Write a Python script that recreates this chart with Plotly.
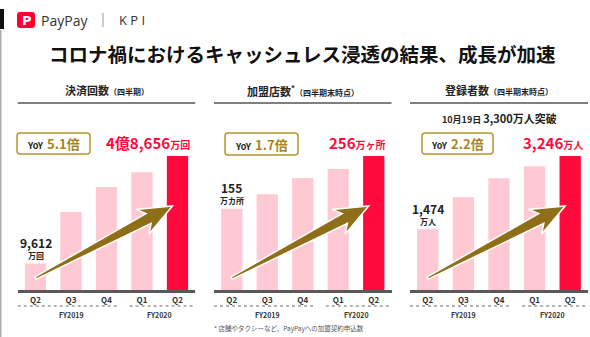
import plotly.graph_objects as go

W, H = 590, 337
FONT = "Noto Sans CJK JP"

# ---------------- data ----------------
quarters = ["Q2", "Q3", "Q4", "Q1", "Q2"]
fiscal_years = ["FY2019", "FY2020"]
payments = [9612, 28300, 37400, 42800, 48656]          # 万回
merchants = [155, 183, 214, 231, 256]                   # 万ヶ所
users = [1474, 2245, 2709, 3000, 3246]                  # 万人

panel_titles = ["決済回数", "加盟店数<sup>*</sup>", "登録者数"]
panel_subtitles = ["（四半期）", "（四半期末時点）", "（四半期末時点）"]
yoy_values = ["5.1倍", "1.7倍", "2.2倍"]
first_labels = [("9,612", "万回"), ("155", "万カ所"), ("1,474", "万人")]
last_labels = [("4億8,656", "万回"), ("256", "万ヶ所"), ("3,246", "万人")]
series = [payments, merchants, users]

PINK = "#FFC9D4"
RED = "#FF0A3C"
GOLD = "#B8952F"
GOLD_TXT = "#A8841F"
ARROW = "#8F6E18"


def px(x):
    return x / W


def py(y):
    return 1 - y / H


def ann(**kw):
    d = dict(showarrow=False, xanchor="center", yanchor="middle")
    d.update(kw)
    return d


# axis geometry (pixels)
domains_px = [(17.75, 195.25), (214, 391.5), (410, 588)]
base_px, top_px = 290, 150
yoy_boxes = [(17, 133, 90, 154), (225, 133, 298, 155), (422, 133, 493, 154)]

fig = go.Figure()
layout = dict(
    width=W, height=H, margin=dict(l=0, r=0, t=0, b=0),
    paper_bgcolor="white", plot_bgcolor="white", showlegend=False,
    font=dict(family=FONT, color="#222"),
)
shapes, annots = [], []

for i, vals in enumerate(series):
    xa = "x" if i == 0 else f"x{i+1}"
    ya = "y" if i == 0 else f"y{i+1}"
    colors = [PINK] * (len(vals) - 1) + [RED]
    fig.add_trace(go.Bar(x=list(range(len(vals))), y=vals, marker_color=colors,
                         marker_line_width=0, width=0.6, xaxis=xa, yaxis=ya,
                         hoverinfo="skip"))
    d0, d1 = domains_px[i]
    rng = max(vals) * (base_px - top_px) / 134
    layout["xaxis" if i == 0 else f"xaxis{i+1}"] = dict(
        domain=[px(d0), px(d1)], range=[-0.5, 4.5], anchor=ya,
        tickvals=list(range(5)), ticktext=[f"<b>{q}</b>" for q in quarters],
        tickfont=dict(size=8, color="#333", family=FONT),
        showline=True, linecolor="#595959", linewidth=3, ticks="",
        showgrid=False, zeroline=False, fixedrange=True)
    layout["yaxis" if i == 0 else f"yaxis{i+1}"] = dict(
        domain=[py(base_px), py(top_px)], range=[0, rng], anchor=xa,
        visible=False, fixedrange=True)

    cx = (d0 + d1) / 2
    # panel title + underline
    annots.append(ann(x=px(cx), y=py(90), xref="paper", yref="paper",
                      text=f"<b>{panel_titles[i]}</b><span style='font-size:8px'><b>{panel_subtitles[i]}</b></span>",
                      font=dict(size=11, color="#222")))
    shapes.append(dict(type="line", xref="paper", yref="paper", x0=px(d0), x1=px(d1),
                       y0=py(103), y1=py(103), line=dict(color="#555", width=1.5)))

    # fiscal year dotted lines & labels
    shapes.append(dict(type="line", xref=xa, yref="paper", x0=-0.5, x1=2.35,
                       y0=py(306), y1=py(306), line=dict(color="#666", width=1, dash="dot")))
    shapes.append(dict(type="line", xref=xa, yref="paper", x0=2.65, x1=4.5,
                       y0=py(306), y1=py(306), line=dict(color="#666", width=1, dash="dot")))
    annots.append(ann(x=1, y=py(315), xref=xa, yref="paper", text=f"<b>{fiscal_years[0]}</b>",
                      font=dict(size=7, color="#333")))
    annots.append(ann(x=3.5, y=py(315), xref=xa, yref="paper", text=f"<b>{fiscal_years[1]}</b>",
                      font=dict(size=7, color="#333")))

    # YoY rounded box
    bx0, by0, bx1, by1 = yoy_boxes[i]
    r = 3
    path = (f"M {px(bx0+r)},{py(by0)} L {px(bx1-r)},{py(by0)} Q {px(bx1)},{py(by0)} {px(bx1)},{py(by0+r)} "
            f"L {px(bx1)},{py(by1-r)} Q {px(bx1)},{py(by1)} {px(bx1-r)},{py(by1)} "
            f"L {px(bx0+r)},{py(by1)} Q {px(bx0)},{py(by1)} {px(bx0)},{py(by1-r)} "
            f"L {px(bx0)},{py(by0+r)} Q {px(bx0)},{py(by0)} {px(bx0+r)},{py(by0)} Z")
    shapes.append(dict(type="path", xref="paper", yref="paper", path=path,
                       line=dict(color=GOLD, width=1.5), fillcolor="white"))
    annots.append(ann(x=px((bx0 + bx1) / 2), y=py((by0 + by1) / 2), xref="paper", yref="paper",
                      text=f"<b>YoY</b>  <span style='font-size:13px;color:{GOLD_TXT}'><b>{yoy_values[i]}</b></span>",
                      font=dict(size=9, color="#222")))

    # first value label
    n, u = first_labels[i]
    annots.append(ann(x=0, y=vals[0], xref=xa, yref=ya, text=f"<b>{n}</b>",
                      yshift=21, font=dict(size=12, color="#222")))
    annots.append(ann(x=0, y=vals[0], xref=xa, yref=ya, text=f"<b>{u}</b>",
                      yshift=8, font=dict(size=8, color="#222")))
    # last value label
    n, u = last_labels[i]
    annots.append(ann(x=4.3, y=vals[-1], xref=xa, yref=ya,
                      text=f"<b>{n}</b><span style='font-size:10px'><b>{u}</b></span>",
                      xanchor="right", xshift=4, yshift=14,
                      font=dict(size=15, color=RED)))

    # growth arrow (pixel geometry from axis)
    step = (d1 - d0) / 5
    tx, ty = d0 + step * 0.5, base_px - 12
    hx, hy = d0 + step * 4.5 - 5, base_px - 84
    L = ((hx - tx) ** 2 + (hy - ty) ** 2) ** 0.5
    ux, uy = (hx - tx) / L, (hy - ty) / L
    nx, ny = -uy, ux
    hl, hw, sw0, sw1 = 34, 14, 1.2, 5.5
    jx, jy = hx - ux * (hl - 7), hy - uy * (hl - 7)
    wx, wy = hx - ux * hl, hy - uy * hl
    pts = [(tx + nx * sw0, ty + ny * sw0), (jx + nx * sw1, jy + ny * sw1), (wx + nx * hw, wy + ny * hw),
           (hx, hy), (wx - nx * hw, wy - ny * hw), (jx - nx * sw1, jy - ny * sw1),
           (tx - nx * sw0, ty - ny * sw0)]
    p = "M " + " L ".join(f"{px(a)},{py(b)}" for a, b in pts) + " Z"
    shapes.append(dict(type="path", xref="paper", yref="paper", path=p,
                       fillcolor=ARROW, line=dict(color="white", width=1.5)))

# panel 3 extra note
annots.append(ann(x=px(440), y=py(118), xref="paper", yref="paper", xanchor="left",
                  text="<b>10月19日</b> <span style='font-size:11px'><b>3,300万人突破</b></span>",
                  font=dict(size=9, color="#222")))

# main title
annots.append(ann(x=px(302), y=py(53), xref="paper", yref="paper",
                  text="<b>コロナ禍におけるキャッシュレス浸透の結果、成長が加速</b>",
                  font=dict(size=19.5, color="#111")))

# header
shapes.append(dict(type="rect", xref="paper", yref="paper", x0=0, x1=px(4), y0=py(29), y1=py(9),
                   fillcolor="#111", line=dict(width=0)))
shapes.append(dict(type="line", xref="paper", yref="paper", x0=px(0.7), x1=px(0.7), y0=py(30), y1=0,
                   line=dict(color="#aaa", width=1.5)))
rx0, ry0, rx1, ry1, rr = 17, 12, 35, 28, 3
logo = (f"M {px(rx0+rr)},{py(ry0)} L {px(rx1-rr)},{py(ry0)} Q {px(rx1)},{py(ry0)} {px(rx1)},{py(ry0+rr)} "
        f"L {px(rx1)},{py(ry1-rr)} Q {px(rx1)},{py(ry1)} {px(rx1-rr)},{py(ry1)} "
        f"L {px(rx0+rr)},{py(ry1)} Q {px(rx0)},{py(ry1)} {px(rx0)},{py(ry1-rr)} "
        f"L {px(rx0)},{py(ry0+rr)} Q {px(rx0)},{py(ry0)} {px(rx0+rr)},{py(ry0)} Z")
shapes.append(dict(type="path", xref="paper", yref="paper", path=logo, fillcolor="#FF0033",
                   line=dict(width=0)))
annots.append(ann(x=px(26.5), y=py(20.5), xref="paper", yref="paper", text="<b>P</b>",
                  font=dict(size=13, color="white", family="DejaVu Sans")))
annots.append(ann(x=px(39), y=py(20), xref="paper", yref="paper", text="PayPay", xanchor="left",
                  font=dict(size=14, color="#333", family="Open Sans")))
shapes.append(dict(type="line", xref="paper", yref="paper", x0=px(103), x1=px(103), y0=py(13), y1=py(27),
                   line=dict(color="#999", width=1)))
annots.append(ann(x=px(117), y=py(20), xref="paper", yref="paper", text="K P I", xanchor="left",
                  font=dict(size=13, color="#333", family="Open Sans")))

# footnote
annots.append(ann(x=px(212), y=py(328), xref="paper", yref="paper", xanchor="left",
                  text="* 店舗やタクシーなど、PayPayへの加盟契約申込数",
                  font=dict(size=6.5, color="#555")))

layout["shapes"] = shapes
layout["annotations"] = annots
layout["bargap"] = 0.4
fig.update_layout(**layout)
fig.write_html("out.html")
